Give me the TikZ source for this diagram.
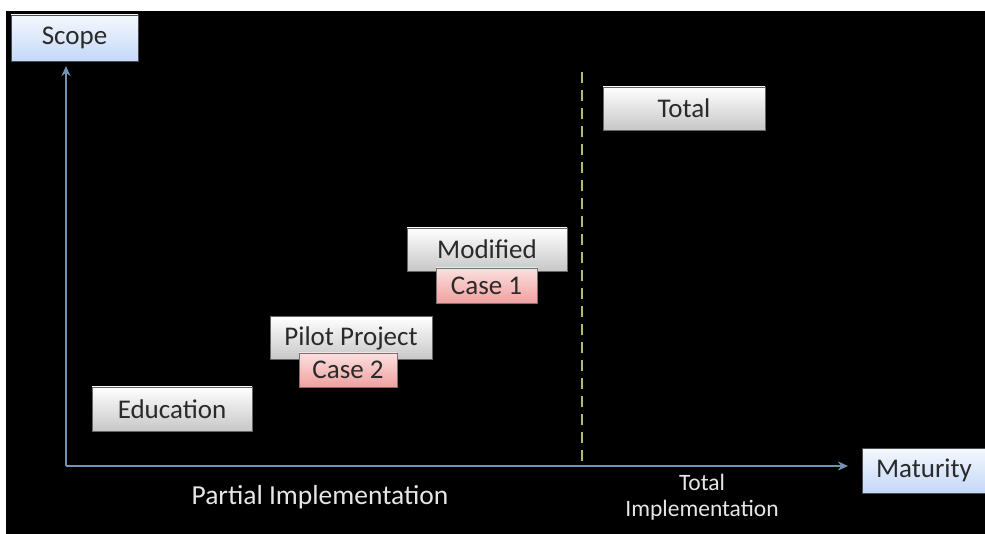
\documentclass[tikz,border=0pt]{standalone}
\usepackage{fontspec}
\setmainfont{Carlito}
\usetikzlibrary{arrows.meta}
\definecolor{axisc}{HTML}{7393B5}
\definecolor{dashc}{HTML}{B8B878}
\definecolor{boxtxt}{HTML}{2A2A2A}
\definecolor{lbltxt}{HTML}{E6E6E6}
\definecolor{bluetop}{HTML}{F4F8FE}
\definecolor{bluebot}{HTML}{C4D8F8}
\definecolor{pinktop}{HTML}{FCE0E0}
\definecolor{pinkbot}{HTML}{F0A0A0}
\tikzset{
  graybox/.style={draw=black!60, line width=0.8pt, top color=white, bottom color=black!22,
    minimum width=160pt, minimum height=43pt, inner sep=0pt, text=boxtxt,
    font=\fontsize{27}{30}\selectfont},
  pinkbox/.style={draw=black!55, line width=0.8pt, top color=pinktop, bottom color=pinkbot,
    minimum width=100pt, minimum height=34pt, inner sep=0pt, text=boxtxt,
    font=\fontsize{27}{30}\selectfont},
  bluebox/.style={draw=black!70, line width=0.8pt, top color=bluetop, bottom color=bluebot,
    minimum height=46pt, inner sep=0pt, text=boxtxt,
    font=\fontsize{27}{30}\selectfont},
  axisline/.style={draw=axisc, line width=2.3pt, -{Stealth[length=10pt,width=9pt]}},
  lbl/.style={text=lbltxt, inner sep=0pt},
}
\begin{document}
\begin{tikzpicture}[x=1pt,y=-1pt]
\clip (0,0) rectangle (985,534);
\fill[white] (0,0) rectangle (985,534);
\fill[black] (6,11) rectangle (985,534);
% axes
\coordinate (o) at (66,466);
\coordinate (ytip) at (66,66);
\coordinate (xtip) at (848,466);
\draw[axisline] (o) -- (ytip);
\draw[axisline] (o) -- (xtip);
% dashed divider
\coordinate (dtop) at (582,72);
\coordinate (dbot) at (582,461);
\draw[dashc, line width=2.5pt, dash pattern=on 11pt off 7pt] (dtop) -- (dbot);
% axis labels
\node[bluebox, minimum width=127pt] (scope) at (74.5,38) {Scope};
\node[bluebox, minimum width=130pt, minimum height=45pt] (maturity) at (927,470.5) {\hspace*{-6pt}Maturity};
% boxes
\node[graybox, minimum width=162pt] (total) at (684,108.5) {Total};
\node[graybox] (modified) at (487,249.5) {Modified};
\node[pinkbox, minimum width=101pt, minimum height=35pt] (case1) at (486.5,285.5) {Case 1};
\node[graybox, minimum width=162pt] (pilot) at (351,338) {Pilot Project};
\node[pinkbox, minimum width=98pt] (case2) at (348,370) {Case 2};
\node[graybox, minimum height=44pt] (edu) at (172,409) {Education};
% bottom labels
\node[lbl, font=\fontsize{27.5}{30}\selectfont] (partial) at (320,497) {Partial Implementation};
\node[lbl, font=\fontsize{23.5}{25.5}\selectfont, align=center] (totimpl) at (702,497) {Total\\Implementation};
\end{tikzpicture}
\end{document}
